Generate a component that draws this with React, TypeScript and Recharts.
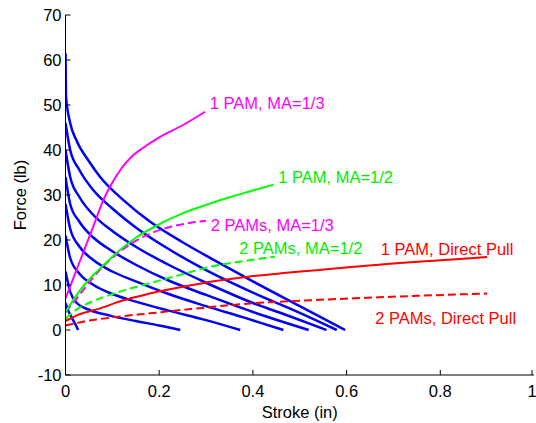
import { LineChart, Line, XAxis, YAxis, ReferenceDot, Label } from 'recharts';

// stroke (in) vs force (lb) — actuator curves at several pressures
const pressure1 = [[0, 6], [0.005, 4.5], [0.012, 3], [0.02, 1.5], [0.027, 0]];
const pressure2 = [[0, 13], [0.01, 8.5], [0.024, 6], [0.05, 4.5], [0.095, 3.2], [0.15, 2], [0.2, 1], [0.245, 0]];
const pressure3 = [[0, 21], [0.01, 16], [0.03, 12.5], [0.06, 10], [0.1, 8], [0.15, 6.3], [0.22, 4.3], [0.3, 2.2], [0.373, 0]];
const pressure4 = [[0, 28], [0.01, 22.5], [0.03, 18.5], [0.06, 15.5], [0.1, 13], [0.15, 10.8], [0.22, 8], [0.3, 5.3], [0.38, 2.8], [0.465, 0]];
const pressure5 = [[0, 34], [0.01, 28], [0.03, 24], [0.06, 20.5], [0.1, 17.5], [0.15, 14.5], [0.22, 11], [0.3, 7.8], [0.4, 4], [0.519, 0]];
const pressure6 = [[0, 40], [0.01, 34], [0.03, 29.5], [0.06, 25.5], [0.1, 22], [0.15, 18.5], [0.22, 14.5], [0.3, 10.5], [0.4, 6], [0.48, 3], [0.557, 0]];
const pressure7 = [[0, 46], [0.01, 40], [0.03, 35.5], [0.06, 31], [0.1, 27], [0.15, 22.8], [0.22, 18], [0.3, 13.3], [0.4, 8.3], [0.5, 3.8], [0.579, 0]];
const pressure8 = [[0, 61.5], [0.001, 52], [0.01, 46], [0.024, 42], [0.05, 37.5], [0.074, 34], [0.123, 28.9], [0.18, 24.1], [0.25, 19.5], [0.323, 15.2], [0.4, 10.8], [0.5, 5.3], [0.597, 0]];

const onePamMa13 = [[0, 7], [0.02, 12.4], [0.04, 17.8], [0.06, 23.2], [0.081, 28.9], [0.1, 32.8], [0.12, 36], [0.14, 38.4], [0.166, 40.5], [0.2, 42.8], [0.25, 45.5], [0.298, 48.5]];
const twoPamMa13 = [[0, 4], [0.02, 6.5], [0.04, 9.2], [0.07, 13], [0.1, 16], [0.14, 19.2], [0.2, 22.2], [0.25, 23.5], [0.3, 24.3]];
const onePamMa12 = [[0, 4], [0.02, 7.2], [0.04, 10], [0.07, 13.3], [0.1, 16.3], [0.15, 20.5], [0.2, 23.5], [0.25, 25.9], [0.3, 27.8], [0.35, 29.5], [0.4, 31], [0.444, 32.3]];
const twoPamMa12 = [[0, 2.5], [0.02, 4.3], [0.05, 6], [0.1, 8], [0.18, 10.4], [0.25, 12.4], [0.32, 14.3], [0.38, 15.3], [0.447, 16.3]];
const onePamDirect = [[0, 2], [0.03, 3.5], [0.074, 4.8], [0.12, 6.5], [0.18, 8.1], [0.25, 9.6], [0.32, 10.9], [0.394, 11.9], [0.46, 12.6], [0.536, 13.3], [0.6, 13.9], [0.7, 14.8], [0.8, 15.5], [0.9, 16.2]];
const twoPamDirect = [[0, 1], [0.04, 1.9], [0.1, 2.8], [0.18, 3.7], [0.28, 4.8], [0.394, 5.9], [0.5, 6.5], [0.607, 7], [0.75, 7.6], [0.9, 8.1]];

const xTicks = [0, 0.2, 0.4, 0.6, 0.8, 1];
const yTicks = [-10, 0, 10, 20, 30, 40, 50, 60, 70];

const blueCurves = [pressure1, pressure2, pressure3, pressure4, pressure5, pressure6, pressure7, pressure8];

const otherCurves = [
  { name: '1 PAM, MA=1/3', pts: onePamMa13, color: '#ff00ff', dashed: false },
  { name: '2 PAMs, MA=1/3', pts: twoPamMa13, color: '#ff00ff', dashed: true },
  { name: '1 PAM, MA=1/2', pts: onePamMa12, color: '#00ff00', dashed: false },
  { name: '2 PAMs, MA=1/2', pts: twoPamMa12, color: '#00ff00', dashed: true },
  { name: '1 PAM, Direct Pull', pts: onePamDirect, color: '#ff0000', dashed: false },
  { name: '2 PAMs, Direct Pull', pts: twoPamDirect, color: '#ff0000', dashed: true },
];

// text annotations, anchored at their left edge
const notes = [
  { text: '1 PAM, MA=1/3', x: 0.308, y: 50.4, color: '#ff00ff' },
  { text: '1 PAM, MA=1/2', x: 0.454, y: 33.9, color: '#00ee00' },
  { text: '2 PAMs, MA=1/3', x: 0.31, y: 23.3, color: '#ff00ff' },
  { text: '2 PAMs, MA=1/2', x: 0.371, y: 18.15, color: '#00ee00' },
  { text: '1 PAM, Direct Pull', x: 0.673, y: 18, color: '#ff0000' },
  { text: '2 PAMs, Direct Pull', x: 0.661, y: 2.6, color: '#ff0000' },
];

const font = "Arial, 'Liberation Sans', sans-serif";
const fs = 16.5;
const toRows = (pts: number[][]) => pts.map(([x, y]) => ({ x, y }));

const XTick = ({ x, y, payload }: any) => (
  <g>
    <line x1={x} x2={x} y1={y} y2={y - 5} stroke="#000" />
    <text x={x} y={y + 22} textAnchor="middle" fontSize={fs} fontFamily={font} fill="#000">
      {payload.value}
    </text>
  </g>
);

const YTick = ({ x, y, payload }: any) => (
  <g>
    <line x1={x} x2={x + 5} y1={y} y2={y} stroke="#000" />
    <text x={x - 4} y={y} textAnchor="end" dominantBaseline="central" fontSize={fs} fontFamily={font} fill="#000">
      {payload.value}
    </text>
  </g>
);

export default function App() {
  return (
    <div style={{ position: 'absolute', left: 0, top: 0, background: '#fff' }}>
      <LineChart width={536} height={423} margin={{ top: 15, right: 2, bottom: 0, left: 0 }}>
        <XAxis
          dataKey="x"
          type="number"
          domain={[0, 1]}
          ticks={xTicks}
          height={48}
          tickSize={0}
          tickMargin={0}
          tickLine={false}
          axisLine={{ stroke: '#000' }}
          tick={<XTick />}
          allowDataOverflow
        >
          <Label
            content={({ viewBox }: any) => (
              <text
                x={viewBox.x + viewBox.width / 2}
                y={viewBox.y + 43}
                textAnchor="middle"
                fontSize={fs}
                fontFamily={font}
                fill="#000"
              >
                Stroke (in)
              </text>
            )}
          />
        </XAxis>
        <YAxis
          type="number"
          domain={[-10, 70]}
          ticks={yTicks}
          width={65.5}
          tickSize={0}
          tickMargin={0}
          tickLine={false}
          axisLine={{ stroke: '#000' }}
          tick={<YTick />}
          allowDataOverflow
        >
          <Label
            content={({ viewBox }: any) => {
              const cx = viewBox.x + 20;
              const cy = viewBox.y + viewBox.height / 2;
              return (
                <text
                  x={cx}
                  y={cy}
                  transform={`rotate(-90 ${cx} ${cy})`}
                  textAnchor="middle"
                  dominantBaseline="central"
                  fontSize={fs}
                  fontFamily={font}
                  fill="#000"
                >
                  Force (lb)
                </text>
              );
            }}
          />
        </YAxis>
        {blueCurves.map((pts, i) => (
          <Line
            key={'p' + i}
            data={toRows(pts)}
            dataKey="y"
            type="monotone"
            stroke="#0000ff"
            strokeWidth={2.5}
            dot={false}
            activeDot={false}
            isAnimationActive={false}
          />
        ))}
        {otherCurves.map((c) => (
          <Line
            key={c.name}
            data={toRows(c.pts)}
            dataKey="y"
            type="monotone"
            stroke={c.color}
            strokeWidth={2}
            strokeDasharray={c.dashed ? '8 4' : undefined}
            dot={false}
            activeDot={false}
            isAnimationActive={false}
          />
        ))}
        {notes.map((n) => (
          <ReferenceDot
            key={n.text}
            x={n.x}
            y={n.y}
            r={0}
            fill="none"
            stroke="none"
            ifOverflow="visible"
            label={{ value: n.text, position: 'right', offset: 0, fill: n.color, fontSize: fs, fontFamily: font }}
          />
        ))}
      </LineChart>
    </div>
  );
}
